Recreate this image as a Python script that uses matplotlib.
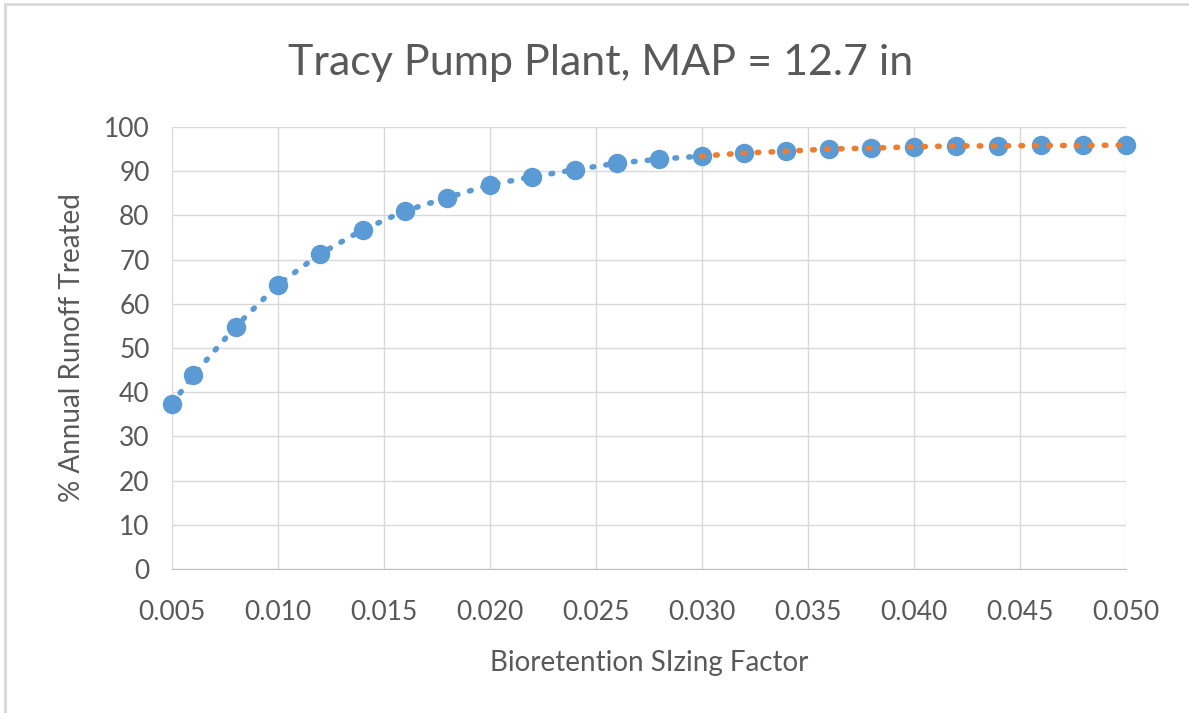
import matplotlib.pyplot as plt
from matplotlib.patches import Rectangle

# sizing factor and % annual runoff treated
sizing = [0.005, 0.006, 0.008, 0.010, 0.012, 0.014, 0.016, 0.018, 0.020, 0.022,
          0.024, 0.026, 0.028, 0.030, 0.032, 0.034, 0.036, 0.038, 0.040, 0.042,
          0.044, 0.046, 0.048, 0.050]
treated = [37.3, 43.8, 54.8, 64.3, 71.3, 76.7, 81.0, 84.0, 86.9, 88.7,
           90.3, 91.8, 92.7, 93.4, 94.1, 94.5, 95.0, 95.2, 95.5, 95.7,
           95.7, 95.8, 95.8, 95.9]
# the orange trend segment starts at 0.030
split = sizing.index(0.030)

xticks = [0.005, 0.010, 0.015, 0.020, 0.025, 0.030, 0.035, 0.040, 0.045, 0.050]
yticks = list(range(0, 101, 10))

blue = "#5b9bd5"
orange = "#ed7d31"
grey = "#595959"
font = ["Lato", "DejaVu Sans"]

fig = plt.figure(figsize=(11.89, 7.13), dpi=100)
ax = fig.add_axes([0.1446, 0.202, 0.8020, 0.620])

ax.plot(sizing[:split + 1], treated[:split + 1], color=blue, lw=4,
        ls=(0, (0.3, 2.2)), dash_capstyle="round", zorder=2)
ax.plot(sizing, treated, ls="none", marker="o", ms=13, color=blue, zorder=3)
ax.plot(sizing[split:], treated[split:], color=orange, lw=4,
        ls=(0, (0.3, 2.2)), dash_capstyle="round", zorder=4)

ax.set_xlim(0.005, 0.050)
ax.set_ylim(0, 100)
ax.set_xticks(xticks)
ax.set_xticklabels([f"{t:.3f}" for t in xticks])
ax.set_yticks(yticks)
ax.grid(True, color="#d9d9d9", lw=1)
ax.set_axisbelow(True)
for s in ["top", "right", "left"]:
    ax.spines[s].set_visible(False)
ax.spines["bottom"].set_color("#bfbfbf")
ax.tick_params(length=0, labelsize=19, labelcolor=grey)
ax.tick_params(axis="x", pad=22)
ax.tick_params(axis="y", pad=16)
for lab in ax.get_xticklabels() + ax.get_yticklabels():
    lab.set_family(font)
for ln in ax.lines:
    ln.set_clip_on(False)

ax.set_xlabel("Bioretention SIzing Factor", fontsize=20, color=grey,
              family=font, labelpad=18)
ax.set_ylabel("% Annual Runoff Treated", fontsize=20, color=grey,
              family=font, labelpad=14)
fig.text(0.505, 0.912, "Tracy Pump Plant, MAP = 12.7 in", ha="center",
         va="center", fontsize=31, color=grey, family=font)

# light chart-area border
fig.patches.append(Rectangle((0.004, -0.01), 1.1, 1.005, transform=fig.transFigure,
                             fill=False, ec="#d9d9d9", lw=2))

fig.savefig("out.png", dpi=100)
